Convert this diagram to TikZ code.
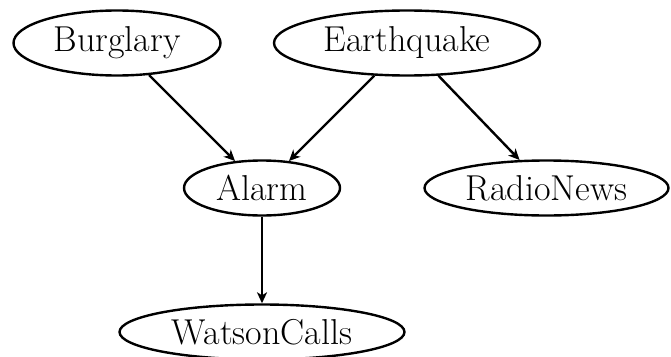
\documentclass[tikz,border=0pt]{standalone}
\usetikzlibrary{shapes.geometric,arrows.meta}
\begin{document}
\begin{tikzpicture}[x=1pt,y=1pt,
  var/.style={ellipse,draw,line width=2.4pt,inner sep=0pt,font=\fontsize{36}{42}\selectfont},
  arr/.style={line width=2.4pt,-{Stealth[length=11pt,width=10pt,inset=3pt]}}]
\useasboundingbox (0,0) rectangle (671,-356);
\node[var,minimum width=207pt,minimum height=65pt] (B) at (117,-43) {Burglary};
\node[var,minimum width=266pt,minimum height=65pt] (E) at (407,-43) {Earthquake};
\node[var,minimum width=156pt,minimum height=55pt] (A) at (262,-188) {Alarm};
\node[var,minimum width=244pt,minimum height=55pt] (R) at (546.5,-188) {RadioNews};
\node[var,minimum width=285pt,minimum height=55pt] (W) at (262,-332) {WatsonCalls};
\draw[arr] (B) -- (A);
\draw[arr] (E) -- (A);
\draw[arr] (E) -- (R);
\draw[arr] (A) -- (W);
\end{tikzpicture}
\end{document}
